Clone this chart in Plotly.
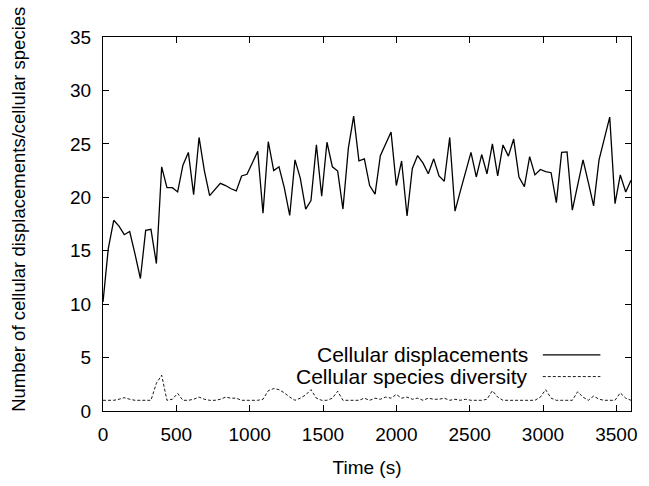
import plotly.graph_objects as go

time_s = [0, 36, 73, 109, 145, 182, 218, 255, 291, 327, 364, 400, 436, 473, 509, 545, 582, 618, 655, 691,
          727, 764, 800, 836, 873, 909, 945, 982, 1018, 1055, 1091, 1127, 1164, 1200, 1236, 1273, 1309, 1345, 1382, 1418,
          1455, 1491, 1527, 1564, 1600, 1636, 1673, 1709, 1745, 1782, 1818, 1855, 1891, 1927, 1964, 2000, 2036, 2073, 2109, 2145,
          2182, 2218, 2255, 2291, 2327, 2364, 2400, 2436, 2473, 2509, 2545, 2582, 2618, 2655, 2691, 2727, 2764, 2800, 2836, 2873,
          2909, 2945, 2982, 3018, 3055, 3091, 3127, 3164, 3200, 3236, 3273, 3309, 3345, 3382, 3418, 3455, 3491, 3527, 3564, 3600]

displacements = [10.2, 15.2, 17.85, 17.3, 16.5, 16.8, 14.7, 12.4, 16.9, 17.0, 13.8, 22.85, 20.9, 20.9, 20.5, 23.0, 24.2,
                 20.25, 25.6, 22.5, 20.15, 20.7, 21.3, 21.1, 20.8, 20.6, 22.0, 22.15, 23.2, 24.3, 18.5, 25.2, 22.5, 22.85,
                 20.9, 18.3, 23.5, 21.8, 18.9, 19.7, 24.9, 20.1, 25.15, 22.85, 22.45, 18.9, 24.6, 27.6, 23.4, 23.6,
                 21.1, 20.3, 23.9, 25.0, 26.1, 21.1, 23.4, 18.25, 22.7, 23.9, 23.2, 22.2, 23.6, 22.0, 21.5, 25.6,
                 18.7, 20.55, 22.4, 24.2, 21.9, 24.0, 22.2, 25.0, 22.0, 24.9, 23.85, 25.45, 21.9, 21.0, 23.8, 22.1,
                 22.6, 22.4, 22.3, 19.5, 24.2, 24.25, 18.8, 21.0, 23.5, 21.4, 19.2, 23.5, 25.6, 27.5, 19.4, 22.1, 20.5, 21.6]

diversity = [1.0, 1.0, 1.0, 1.1, 1.25, 1.1, 1.0, 1.0, 1.0, 1.0, 2.6, 3.35, 1.0, 1.1, 1.65, 1.0, 1.0, 1.1, 1.3, 1.1,
             1.0, 1.0, 1.1, 1.3, 1.2, 1.2, 1.0, 1.0, 1.0, 1.0, 1.1, 1.9, 2.1, 2.0, 1.7, 1.3, 1.0, 1.2, 1.5, 2.0,
             1.2, 1.0, 1.0, 1.2, 1.85, 1.0, 1.0, 1.0, 1.0, 1.2, 1.0, 1.2, 1.1, 1.3, 1.2, 1.55, 1.2, 1.3, 1.1, 1.2,
             1.0, 1.2, 1.1, 1.1, 1.2, 1.0, 1.1, 1.0, 1.1, 1.0, 1.0, 1.0, 1.1, 1.9, 1.3, 1.0, 1.0, 1.0, 1.0, 1.0,
             1.0, 1.0, 1.3, 2.0, 1.2, 1.0, 1.0, 1.0, 1.0, 1.8, 1.3, 1.0, 1.4, 1.1, 1.0, 1.0, 1.0, 1.7, 1.2, 1.0]

series_names = ["Cellular displacements", "Cellular species diversity"]
x_ticks = [0, 500, 1000, 1500, 2000, 2500, 3000, 3500]
y_ticks = [0, 5, 10, 15, 20, 25, 30, 35]
x_title = "Time (s)"
y_title = "Number of cellular displacements/cellular species"

FONT = "Liberation Sans, Arial, sans-serif"

fig = go.Figure()
fig.add_trace(go.Scatter(x=time_s, y=displacements, mode="lines", name=series_names[0],
                         line=dict(color="black", width=1.3)))
fig.add_trace(go.Scatter(x=time_s, y=diversity, mode="lines", name=series_names[1],
                         line=dict(color="black", width=0.9, dash="3px,2px")))

axis_common = dict(showline=True, linecolor="black", linewidth=1.2, mirror="ticks",
                   ticks="inside", ticklen=6, tickcolor="black", tickwidth=1,
                   showgrid=False, zeroline=False,
                   tickfont=dict(family=FONT, size=19, color="black"))

fig.update_xaxes(range=[0, 3600], tickvals=x_ticks, ticklabelstandoff=6,
                 title=dict(text=x_title, font=dict(family=FONT, size=19, color="black"), standoff=16),
                 **axis_common)
fig.update_yaxes(range=[0, 35], tickvals=y_ticks, ticklabelstandoff=7,
                 **axis_common)

# y-axis title as rotated annotation (positioned like the reference)
fig.add_annotation(x=-0.159, y=0.538, xref="paper", yref="paper", text=y_title, showarrow=False,
                   textangle=-90, xanchor="center", yanchor="middle",
                   font=dict(family=FONT, size=18.5, color="black"))

# gnuplot-style legend: text right-aligned, line sample on the right
legend_rows = [(0.15, "solid", 1.3), (0.092, "3px,2px", 0.9)]
for (yp, dash, w), name in zip(legend_rows, series_names):
    fig.add_annotation(x=0.808, y=yp, xref="paper", yref="paper", text=name, showarrow=False,
                       xanchor="right", yanchor="middle",
                       font=dict(family=FONT, size=21, color="black"))
    fig.add_shape(type="line", xref="paper", yref="paper", x0=0.833, x1=0.942, y0=yp, y1=yp,
                  line=dict(color="black", width=w, dash=dash))

fig.update_layout(width=649, height=486, showlegend=False,
                  margin=dict(l=103, r=13, t=37, b=69),
                  plot_bgcolor="white", paper_bgcolor="white",
                  font=dict(family=FONT, size=19, color="black"))

fig.write_html("out.html")
